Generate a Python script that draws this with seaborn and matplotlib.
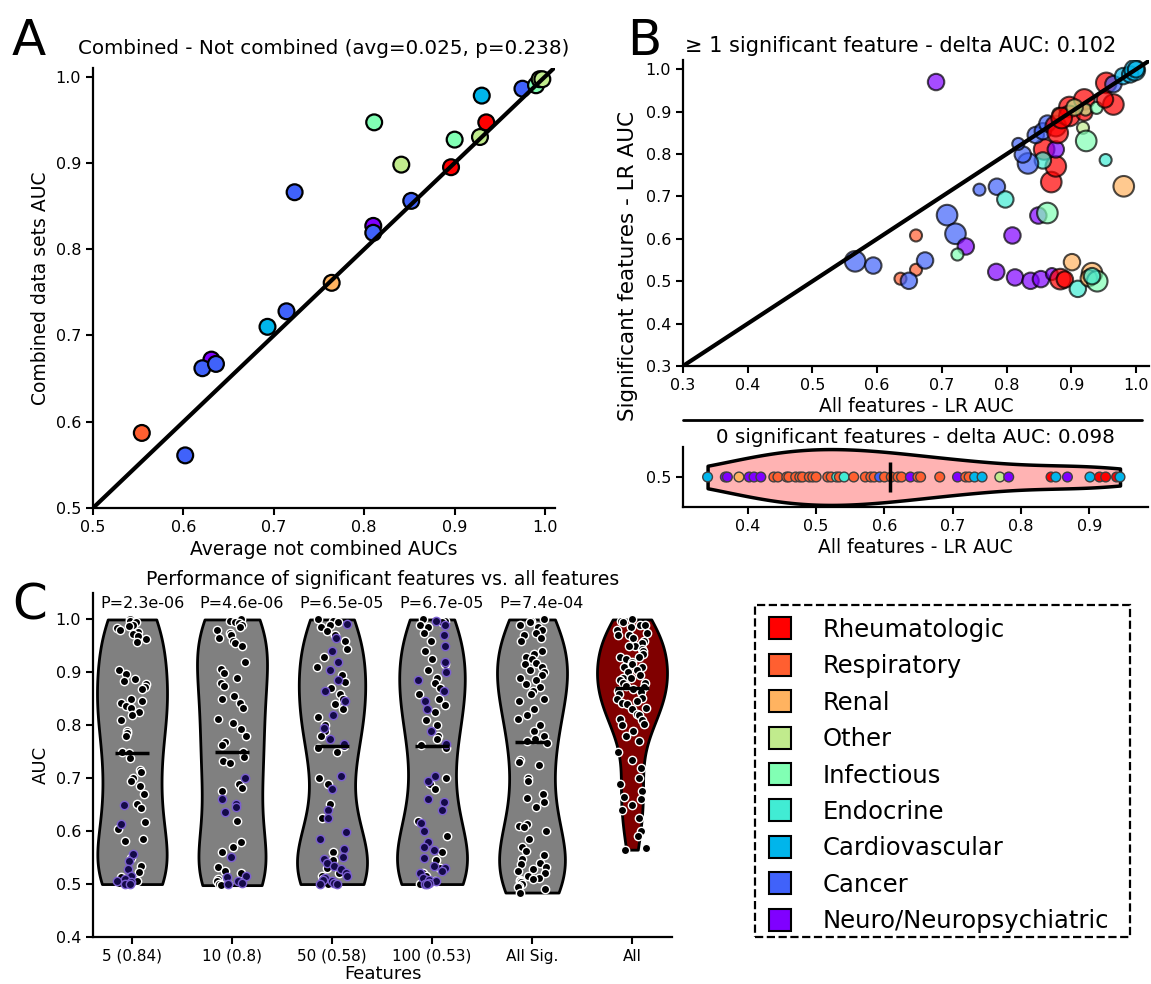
import numpy as np
import pandas as pd
import matplotlib
matplotlib.use('Agg')
import matplotlib.pyplot as plt
from matplotlib.lines import Line2D
from matplotlib.patches import Rectangle
import seaborn as sns

np.random.seed(7)

# categories / colours (rainbow, red on top)
categories = ['Rheumatologic', 'Respiratory', 'Renal', 'Other', 'Infectious',
              'Endocrine', 'Cardiovascular', 'Cancer', 'Neuro/Neuropsychiatric']
codes = ['Rh', 'Re', 'Rn', 'Ot', 'In', 'En', 'Ca', 'Cn', 'Ne']
code_to_cat = dict(zip(codes, categories))
cat_colors = plt.cm.rainbow(np.linspace(1, 0, len(categories)))
palette = dict(zip(categories, cat_colors))

# Panel A: combined vs not combined
a_x = [0.554, 0.602, 0.631, 0.621, 0.636, 0.693, 0.714, 0.723, 0.764, 0.810, 0.810,
       0.811, 0.841, 0.852, 0.896, 0.900, 0.928, 0.935, 0.930, 0.975, 0.990, 0.994, 0.997]
a_y = [0.587, 0.561, 0.672, 0.662, 0.667, 0.710, 0.728, 0.866, 0.761, 0.827, 0.819,
       0.947, 0.898, 0.856, 0.895, 0.927, 0.930, 0.947, 0.978, 0.986, 0.990, 0.997, 0.997]
a_cat = ['Re', 'Cn', 'Ne', 'Cn', 'Cn', 'Ca', 'Cn', 'Cn', 'Rn', 'Ne', 'Cn',
         'In', 'Ot', 'Cn', 'Rh', 'In', 'Ot', 'Rh', 'Ca', 'Cn', 'In', 'Ot', 'Ot']

# Panel B top: >=1 significant feature (all-features AUC, sig-features AUC, category, size class)
b1_x = [0.691, 0.566, 0.594, 0.660, 0.660, 0.636, 0.649, 0.674, 0.708, 0.721, 0.737, 0.724,
        0.758, 0.785, 0.798, 0.809, 0.784, 0.813, 0.837, 0.853, 0.870, 0.883, 0.890, 0.901,
        0.910, 0.932, 0.927, 0.940, 0.932, 0.849, 0.863, 0.981, 0.953, 0.869, 0.876, 0.858,
        0.876, 0.856, 0.833, 0.825, 0.818, 0.845, 0.856, 0.863, 0.876, 0.879, 0.880, 0.897,
        0.897, 0.920, 0.920, 0.922, 0.939, 0.918, 0.923, 0.965, 0.954, 0.965, 0.952, 0.980,
        0.991, 0.998, 1.000, 0.885, 0.905]
b1_y = [0.970, 0.547, 0.537, 0.608, 0.527, 0.506, 0.501, 0.549, 0.656, 0.612, 0.582, 0.563,
        0.716, 0.723, 0.693, 0.608, 0.522, 0.509, 0.501, 0.505, 0.517, 0.505, 0.504, 0.545,
        0.482, 0.519, 0.507, 0.500, 0.512, 0.655, 0.661, 0.724, 0.786, 0.734, 0.771, 0.811,
        0.811, 0.785, 0.778, 0.799, 0.824, 0.845, 0.854, 0.872, 0.866, 0.850, 0.895, 0.911,
        0.890, 0.929, 0.898, 0.905, 0.909, 0.862, 0.831, 0.917, 0.968, 0.965, 0.929, 0.984,
        0.988, 0.998, 1.000, 0.885, 0.910]
b1_cat = ['Ne', 'Cn', 'Cn', 'Re', 'Re', 'Re', 'Cn', 'Cn', 'Cn', 'Cn', 'Ne', 'In',
          'Cn', 'Cn', 'En', 'Ne', 'Ne', 'Ne', 'Ne', 'Ne', 'Ne', 'Rh', 'Rh', 'Rn',
          'En', 'Rn', 'Rn', 'In', 'En', 'Ne', 'In', 'Rn', 'En', 'Rh', 'Rh', 'Rh',
          'Ne', 'En', 'Cn', 'Cn', 'Cn', 'Cn', 'Cn', 'Cn', 'Rh', 'Rh', 'Ot', 'Rh',
          'Rh', 'Rh', 'Rh', 'Ot', 'In', 'Ot', 'In', 'Rh', 'Rh', 'Cn', 'Rh', 'Ca',
          'Ca', 'Ca', 'Ca', 'Rh', 'Ot']
b1_size = [2, 3, 2, 1, 1, 1, 2, 2, 3, 3, 2, 1,
           1, 2, 2, 2, 2, 2, 2, 2, 1, 3, 2, 2,
           2, 3, 2, 3, 2, 2, 3, 3, 1, 3, 3, 3,
           2, 2, 3, 2, 1, 2, 2, 2, 3, 3, 1, 3,
           3, 3, 2, 1, 1, 1, 3, 3, 3, 2, 2, 2,
           2, 3, 2, 3, 2]

# Panel B bottom: 0 significant features
b0_x = [0.341, 0.367, 0.370, 0.387, 0.402, 0.409, 0.419, 0.438, 0.444, 0.457, 0.460, 0.470,
        0.476, 0.480, 0.490, 0.495, 0.500, 0.517, 0.522, 0.530, 0.534, 0.541, 0.555, 0.572,
        0.580, 0.585, 0.593, 0.600, 0.610, 0.620, 0.625, 0.638, 0.649, 0.653, 0.681, 0.707,
        0.719, 0.724, 0.732, 0.743, 0.769, 0.782, 0.844, 0.851, 0.868, 0.901, 0.915, 0.924,
        0.940, 0.945]
b0_cat = ['Ca', 'Ne', 'Ne', 'Rn', 'Ne', 'Ne', 'Ne', 'Re', 'Re', 'Re', 'Re', 'Re',
          'Re', 'Re', 'Re', 'Re', 'Re', 'Re', 'Re', 'En', 'Re', 'En', 'Re', 'Re',
          'Re', 'Re', 'Cn', 'Re', 'Re', 'Re', 'Re', 'Ne', 'Re', 'Re', 'Re', 'Ne',
          'Re', 'Re', 'Ca', 'Ca', 'Ot', 'Ne', 'Rh', 'Ca', 'Ne', 'Ca', 'Rh', 'Rh',
          'Rh', 'Ca']

# Panel C: performance of significant features
c_labels = ['5 (0.84)', '10 (0.8)', '50 (0.58)', '100 (0.53)', 'All Sig.', 'All']
c_pvals = ['P=2.3e-06', 'P=4.6e-06', 'P=6.5e-05', 'P=6.7e-05', 'P=7.4e-04']
c_black = [
    [1.0, 0.998, 0.995, 0.99, 0.987, 0.983, 0.98, 0.976, 0.972, 0.968, 0.963, 0.958,
     0.905, 0.897, 0.888, 0.884, 0.878, 0.873, 0.868, 0.85, 0.846, 0.842, 0.836, 0.832,
     0.825, 0.82, 0.81, 0.79, 0.786, 0.779,
     0.75, 0.748, 0.738, 0.716, 0.712, 0.70, 0.694, 0.686, 0.67, 0.652, 0.643, 0.617,
     0.605, 0.585, 0.582, 0.55, 0.535, 0.522, 0.513, 0.505, 0.502, 0.5],
    [1.0, 0.998, 0.996, 0.993, 0.99, 0.985, 0.98, 0.975, 0.97, 0.965, 0.96, 0.955, 0.95,
     0.92, 0.906, 0.898, 0.89, 0.88, 0.874, 0.856, 0.85, 0.843, 0.833, 0.812, 0.805,
     0.793, 0.78, 0.768, 0.762,
     0.75, 0.74, 0.733, 0.728, 0.69, 0.681, 0.676, 0.62, 0.58, 0.57, 0.56, 0.532, 0.525,
     0.52, 0.51, 0.505, 0.5, 0.5, 0.498],
    [1.0, 0.998, 0.995, 0.99, 0.985, 0.978, 0.97, 0.96, 0.945, 0.93, 0.91, 0.895, 0.882,
     0.87, 0.86, 0.85, 0.84, 0.83, 0.815, 0.8, 0.79, 0.78, 0.76, 0.757, 0.75, 0.70, 0.69,
     0.652, 0.625, 0.56, 0.545, 0.53, 0.52, 0.515, 0.51, 0.505, 0.5],
    [1.0, 0.998, 0.995, 0.99, 0.985, 0.975, 0.96, 0.94, 0.925, 0.915, 0.905, 0.89, 0.88,
     0.87, 0.86, 0.85, 0.838, 0.825, 0.81, 0.8, 0.78, 0.775, 0.762, 0.758, 0.7, 0.69,
     0.68, 0.62, 0.59, 0.56, 0.545, 0.53, 0.52, 0.515, 0.51, 0.505, 0.5],
    [1.0, 0.998, 0.995, 0.99, 0.985, 0.98, 0.975, 0.97, 0.965, 0.96,
     0.94, 0.935, 0.93, 0.925, 0.918, 0.915, 0.91, 0.905, 0.9, 0.895, 0.89, 0.885, 0.878,
     0.872, 0.865, 0.86, 0.85, 0.845, 0.83, 0.82, 0.812, 0.8, 0.79, 0.78, 0.775, 0.77, 0.766,
     0.735, 0.73, 0.725, 0.70, 0.694, 0.67, 0.662, 0.655, 0.645, 0.614, 0.61, 0.608, 0.60,
     0.586, 0.57, 0.563, 0.555, 0.548, 0.54, 0.538, 0.532, 0.528, 0.525, 0.52, 0.515, 0.512,
     0.51, 0.507, 0.505, 0.503, 0.5, 0.497, 0.495, 0.49, 0.484],
    [1.0, 0.998, 0.995, 0.99, 0.99, 0.985, 0.98, 0.975, 0.97, 0.97, 0.965, 0.96, 0.955,
     0.95, 0.95, 0.945, 0.94, 0.935, 0.93, 0.93, 0.925, 0.92, 0.915, 0.91, 0.91, 0.905,
     0.9, 0.895, 0.89, 0.89, 0.885, 0.88, 0.88, 0.875, 0.872,
     0.868, 0.865, 0.862, 0.86, 0.852, 0.85, 0.845, 0.842, 0.84, 0.832, 0.83, 0.822, 0.82,
     0.812, 0.81, 0.802, 0.8, 0.79, 0.78, 0.77, 0.75, 0.735, 0.72, 0.7, 0.69, 0.675, 0.665,
     0.66, 0.65, 0.64, 0.625, 0.6, 0.59, 0.568, 0.565],
]
c_purple = [
    [0.649, 0.614, 0.557, 0.544, 0.529, 0.516, 0.51, 0.506, 0.503, 0.5, 0.5],
    [0.70, 0.66, 0.652, 0.645, 0.636, 0.551, 0.516, 0.513, 0.506, 0.502, 0.5],
    [0.992, 0.965, 0.94, 0.92, 0.905, 0.885, 0.865, 0.845, 0.82, 0.795, 0.775, 0.765,
     0.705, 0.68, 0.64, 0.625, 0.598, 0.585, 0.567, 0.551, 0.548, 0.54, 0.534, 0.528,
     0.52, 0.515, 0.512, 0.508, 0.506, 0.502, 0.5, 0.5],
    [0.997, 0.99, 0.97, 0.95, 0.92, 0.9, 0.885, 0.865, 0.845, 0.83, 0.79, 0.765,
     0.705, 0.695, 0.66, 0.655, 0.64, 0.615, 0.6, 0.58, 0.57, 0.565, 0.55, 0.535, 0.53,
     0.525, 0.52, 0.512, 0.508, 0.505, 0.502, 0.5, 0.5],
    [],
    [],
]

# long table for panel C
rows = []
for lab, blk, pur in zip(c_labels, c_black, c_purple):
    rows += [(lab, v, 'black') for v in blk]
    rows += [(lab, v, 'purple') for v in pur]
dfc = pd.DataFrame(rows, columns=['Features', 'AUC', 'kind'])

# ---- style ----
sns.set_theme(style='ticks')
plt.rcParams['font.family'] = ['DejaVu Sans']
plt.rcParams.update({
    'axes.linewidth': 1.6,
    'xtick.major.width': 1.5, 'ytick.major.width': 1.5,
    'xtick.major.size': 5, 'ytick.major.size': 5,
    'xtick.labelsize': 11.5, 'ytick.labelsize': 11.5,
    'axes.labelsize': 13.5, 'axes.titlesize': 14.3,
    'xtick.color': 'black', 'ytick.color': 'black',
    'axes.edgecolor': 'black', 'text.color': 'black', 'axes.labelcolor': 'black',
})

W, H = 1151, 984
fig = plt.figure(figsize=(W / 100, H / 100), dpi=100)


def box(l, t, r, b):
    return [l / W, 1 - b / H, (r - l) / W, (b - t) / H]


# ---- Panel A ----
axa = fig.add_axes(box(93, 68, 555, 508))
sns.scatterplot(x=a_x, y=a_y, hue=[code_to_cat[c] for c in a_cat], palette=palette,
                s=130, edgecolor='black', linewidth=1.6, legend=False, ax=axa, zorder=3)
axa.axline((0.5, 0.5), slope=1, color='black', lw=3, zorder=4)
axa.set_xlim(0.5, 1.011)
axa.set_ylim(0.5, 1.01)
axa.set_xticks(np.arange(0.5, 1.01, 0.1))
axa.set_yticks(np.arange(0.5, 1.01, 0.1))
axa.set_xlabel('Average not combined AUCs')
axa.set_ylabel('Combined data sets AUC')
axa.set_title('Combined - Not combined (avg=0.025, p=0.238)', pad=10)
sns.despine(ax=axa)

# ---- Panel B top ----
axb1 = fig.add_axes(box(683, 60, 1149, 366))
sns.scatterplot(x=b1_x, y=b1_y, hue=[code_to_cat[c] for c in b1_cat], palette=palette,
                size=b1_size, sizes={1: 75, 2: 140, 3: 220}, alpha=0.7,
                edgecolor='black', linewidth=1.5, legend=False, ax=axb1, zorder=3)
axb1.axline((0.3, 0.3), slope=1, color='black', lw=3, zorder=4)
axb1.set_xlim(0.3, 1.02)
axb1.set_ylim(0.3, 1.022)
axb1.set_xticks(np.arange(0.3, 1.01, 0.1))
axb1.set_yticks(np.arange(0.3, 1.01, 0.1))
axb1.set_xlabel('All features - LR AUC', labelpad=3)
axb1.set_title('\u2265 1 significant feature - delta AUC: 0.102', x=0.468, fontsize=15)
sns.despine(ax=axb1)

fig.add_artist(Line2D([683 / W, 1142 / W], [1 - 420 / H, 1 - 420 / H], color='black', lw=2))
fig.text(628 / W, 1 - 266 / H, 'Significant features - LR AUC', rotation=90,
         ha='center', va='center', fontsize=15.5)

# ---- Panel B bottom ----
axb0 = fig.add_axes(box(683, 447, 1148, 507))
b0_y = np.full(len(b0_x), 0.5)
sns.violinplot(x=b0_x, y=b0_y, orient='h', native_scale=True, cut=0, inner=None,
               color='#ffb3b3', saturation=1, linecolor='black', linewidth=2.5,
               width=0.8, ax=axb0)
sns.stripplot(x=b0_x, y=b0_y, orient='h', native_scale=True, jitter=False,
              hue=[code_to_cat[c] for c in b0_cat], palette=palette, size=7,
              linewidth=1, edgecolor='0.25', legend=False, ax=axb0, zorder=3)
axb0.vlines(np.mean(b0_x), 0.5 - 0.22, 0.5 + 0.22, color='black', lw=2.5, zorder=5)
axb0.set_xlim(0.305, 0.986)
axb0.set_ylim(0.07, 0.93)
axb0.set_yticks([0.5])
axb0.set_xticks(np.arange(0.4, 0.91, 0.1))
axb0.set_xlabel('All features - LR AUC', labelpad=3)
axb0.set_ylabel('')
axb0.set_title('0 significant features - delta AUC: 0.098', pad=3)
sns.despine(ax=axb0)

# ---- Panel C ----
axc = fig.add_axes(box(93, 593, 672, 937))
c_palette = {lab: '#808080' for lab in c_labels[:-1]}
c_palette['All'] = '#800000'
sns.violinplot(data=dfc, x='Features', y='AUC', hue='Features', order=c_labels,
               hue_order=c_labels, palette=c_palette, legend=False, cut=0, inner=None,
               density_norm='width', width=0.7, linewidth=2, linecolor='black',
               saturation=1, bw_adjust=1.0, ax=axc)
sns.stripplot(data=dfc[dfc['kind'] == 'black'], x='Features', y='AUC', order=c_labels,
              color='black', edgecolor='white', linewidth=1, size=6, jitter=0.15,
              ax=axc, zorder=3)
sns.stripplot(data=dfc[dfc['kind'] == 'purple'], x='Features', y='AUC', order=c_labels,
              color='#140a48', edgecolor='#7b5fd0', linewidth=1, size=6, jitter=0.15,
              ax=axc, zorder=3)
for i, lab in enumerate(c_labels):
    m = dfc.loc[dfc['Features'] == lab, 'AUC'].median()
    axc.hlines(m, i - 0.17, i + 0.17, color='black', lw=2.5, zorder=5)
for i, p in enumerate(c_pvals):
    axc.text(i + 0.1, 1.03, p, ha='center', va='center', fontsize=11.5)
axc.set_xlim(-0.39, 5.4)
axc.set_ylim(0.4, 1.05)
axc.set_yticks(np.arange(0.4, 1.01, 0.1))
axc.tick_params(axis='x', labelsize=11)
axc.set_xlabel('Features', fontsize=13, labelpad=1)
axc.set_ylabel('AUC', fontsize=13)
axc.set_title('Performance of significant features vs. all features', fontsize=13.5)
sns.despine(ax=axc)

# ---- legend ----
fig.add_artist(Rectangle((755 / W, 1 - 937 / H), 375 / W, 332 / H, fill=False,
                         edgecolor='black', lw=1.6, linestyle='--'))
handles = [Line2D([], [], marker='s', linestyle='none', markersize=16,
                  markerfacecolor=palette[c], markeredgecolor='black',
                  markeredgewidth=1.5, label=c) for c in categories]
fig.legend(handles=handles, loc='upper left', bbox_to_anchor=(768 / W, 1 - 618 / H),
           fontsize=17.5, frameon=False, borderpad=0, borderaxespad=0,
           handlelength=1.0, handletextpad=1.26, labelspacing=0.51)

# panel letters
fig.text(12 / W, 1 - 55 / H, 'A', fontsize=36, va='baseline')
fig.text(627 / W, 1 - 55 / H, 'B', fontsize=36, va='baseline')
fig.text(12 / W, 1 - 620 / H, 'C', fontsize=36, va='baseline')

fig.savefig('out.png', dpi=100)
